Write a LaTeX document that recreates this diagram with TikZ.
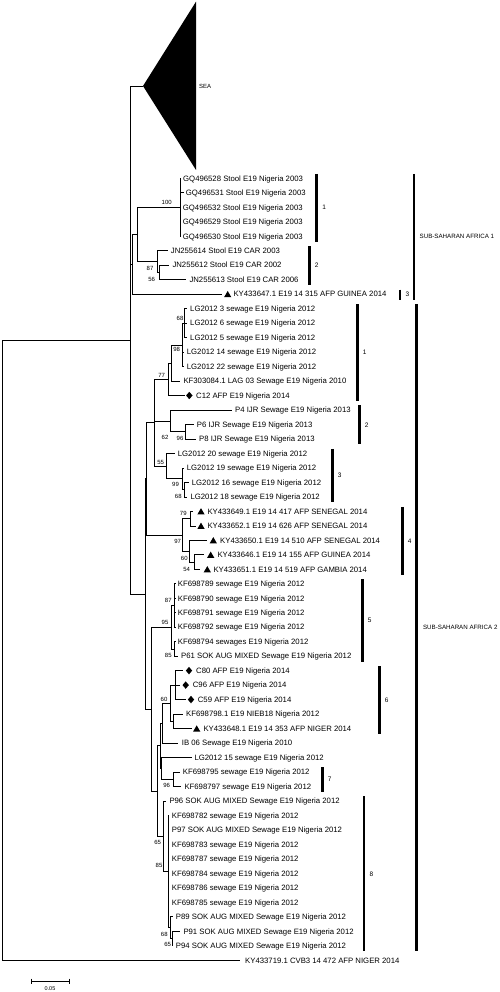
\documentclass[tikz,border=0pt]{standalone}
\usepackage{fontspec}
\setmainfont{Liberation Sans}
\usepackage{tikz}
\usetikzlibrary{shapes.geometric}
\def\RowTop{178.3}
\def\RowGap{14.48}

\begin{document}
\begin{tikzpicture}[x=1pt,y=-1pt,
    branch/.style={line width=0.6pt},
    leaftext/.style={anchor=base west,inner sep=0pt,yshift=-2.8pt,font=\fontsize{7.75}{9}\selectfont},
    boot/.style={inner sep=0pt,font=\fontsize{6}{7}\selectfont},
    tri/.style={regular polygon,regular polygon sides=3,fill,inner sep=0pt,minimum size=8.4pt},
    dia/.style={diamond,fill,inner sep=0pt,minimum width=6.6pt,minimum height=7.6pt},
    cladebar/.style={line width=2.7pt},
    cladetext/.style={anchor=west,inner sep=0pt,font=\fontsize{6.5}{8}\selectfont},
    regiontext/.style={anchor=west,inner sep=0pt,font=\fontsize{6.2}{8}\selectfont}]
\useasboundingbox (0,0) rectangle (499,992);

% leaves: row/branch end/label start/name
\foreach \i/\ex/\lx/\txt in {
  1/181/183/{GQ496528 Stool E19 Nigeria 2003},
  2/183.5/185.7/{GQ496531 Stool E19 Nigeria 2003},
  3/181/182.7/{GQ496532 Stool E19 Nigeria 2003},
  4/181/182.7/{GQ496529 Stool E19 Nigeria 2003},
  5/181/182.7/{GQ496530 Stool E19 Nigeria 2003},
  6/167.7/170.7/{JN255614 Stool E19 CAR 2003},
  7/169.3/172.3/{JN255612 Stool E19 CAR 2002},
  8/186.3/189.3/{JN255613 Stool E19 CAR 2006},
  9/222/233.3/{KY433647.1 E19 14 315 AFP GUINEA 2014},
  10/187/190/{LG2012 3 sewage E19 Nigeria 2012},
  11/187/190/{LG2012 6 sewage E19 Nigeria 2012},
  12/187/190/{LG2012 5 sewage E19 Nigeria 2012},
  13/184/186.7/{LG2012 14 sewage E19 Nigeria 2012},
  14/184/186.7/{LG2012 22 sewage E19 Nigeria 2012},
  15/180.3/183.3/{KF303084.1 LAG 03 Sewage E19 Nigeria 2010},
  16/185/196/{C12 AFP E19 Nigeria 2014},
  17/232/235/{P4 IJR Sewage E19 Nigeria 2013},
  18/193.7/196.7/{P6 IJR Sewage E19 Nigeria 2013},
  19/196/199/{P8 IJR Sewage E19 Nigeria 2013},
  20/174.7/177.7/{LG2012 20 sewage E19 Nigeria 2012},
  21/184/186.7/{LG2012 19 sewage E19 Nigeria 2012},
  22/188.7/191.7/{LG2012 16 sewage E19 Nigeria 2012},
  23/187.3/190.3/{LG2012 18 sewage E19 Nigeria 2012},
  24/193.3/207.3/{KY433649.1 E19 14 417 AFP SENEGAL 2014},
  25/196/207.3/{KY433652.1 E19 14 626 AFP SENEGAL 2014},
  26/206.7/220/{KY433650.1 E19 14 510 AFP SENEGAL 2014},
  27/204/217.3/{KY433646.1 E19 14 155 AFP GUINEA 2014},
  28/200/213.3/{KY433651.1 E19 14 519 AFP GAMBIA 2014},
  29/175.5/177.7/{KF698789 sewage E19 Nigeria 2012},
  30/175.5/177.7/{KF698790 sewage E19 Nigeria 2012},
  31/175.5/177.7/{KF698791 sewage E19 Nigeria 2012},
  32/175.5/177.7/{KF698792 sewage E19 Nigeria 2012},
  33/175.5/177.7/{KF698794 sewages E19 Nigeria 2012},
  34/178/181/{P61 SOK AUG MIXED Sewage E19 Nigeria 2012},
  35/183.3/196/{C80 AFP E19 Nigeria 2014},
  36/180/192.7/{C96 AFP E19 Nigeria 2014},
  37/186/197.7/{C59 AFP E19 Nigeria 2014},
  38/183/186/{KF698798.1 E19 NIEB18 Nigeria 2012},
  39/191.7/203.3/{KY433648.1 E19 14 353 AFP NIGER 2014},
  40/178.3/181.7/{IB 06 Sewage E19 Nigeria 2010},
  41/191.7/194.3/{LG2012 15 sewage E19 Nigeria 2012},
  42/179.7/182.7/{KF698795 sewage E19 Nigeria 2012},
  43/181.3/184.3/{KF698797 sewage E19 Nigeria 2012},
  44/166.3/169.3/{P96 SOK AUG MIXED Sewage E19 Nigeria 2012},
  45/169/171.7/{KF698782 sewage E19 Nigeria 2012},
  46/169/171.7/{P97 SOK AUG MIXED Sewage E19 Nigeria 2012},
  47/169/171.7/{KF698783 sewage E19 Nigeria 2012},
  48/169/171.7/{KF698787 sewage E19 Nigeria 2012},
  49/169/171.7/{KF698784 sewage E19 Nigeria 2012},
  50/169/171.7/{KF698786 sewage E19 Nigeria 2012},
  51/169/171.7/{KF698785 sewage E19 Nigeria 2012},
  52/172.7/175.7/{P89 SOK AUG MIXED Sewage E19 Nigeria 2012},
  53/180.3/183.3/{P91 SOK AUG MIXED Sewage E19 Nigeria 2012},
  54/172.7/175.7/{P94 SOK AUG MIXED Sewage E19 Nigeria 2012},
  55/240/245/{KY433719.1 CVB3 14 472 AFP NIGER 2014}}{
  \coordinate (l\i) at (\ex,{\RowTop+(\i-1)*\RowGap});
  \node[leaftext] (t\i) at (\lx,{\RowTop+(\i-1)*\RowGap}) {\txt};
}
\foreach \i/\mx in {9/227.7,24/201,25/201,26/213.3,27/210.7,28/207.3,39/196.7}
  \node[tri] (m\i) at (\mx,{\RowTop+(\i-1)*\RowGap+1}) {};
\foreach \i/\mx in {16/189.3,35/189,36/185.7,37/191}
  \node[dia] (m\i) at (\mx,{\RowTop+(\i-1)*\RowGap}) {};

% inner nodes
\foreach \nm/\nx/\ny in {root/2/650.1, r/130/339.97, ssa1/132.3/264.28, a1/137/234.41,
    n100/180/207.26, n87/157/261.56, n56/159/272.42,
    ssa2/145.5/593.93, wa/146.7/478.76, ga/154.3/422.65,
    n77/168.3/379.21, nkf/171.7/362.92, n98/182.7/344.82, n68a/184.3/323.10,
    n62/170/420.84, n96a/185/431.70, n55/166.7/466.09, n99/182.7/478.76, n68b/184/489.62,
    n97/182.7/534.87, n79/190/518.58, n60a/189.3/551.16, n54/194.3/562.02,
    gc/151.7/709.09, n95/171.7/627.18, n87b/174.5/605.46, n85b/174.5/648.90,
    gd/157.3/790.99, ge/160/745.74, nib/162.7/723.11, n60b/170/703.20,
    nc3/175/685.10, nk/173.3/721.30, gf/161.7/768.36, n96b/173.3/779.22,
    n65/163.3/836.24, nz/168/871.53, n68c/170.7/927.64, n65c/172/938.50}
  \coordinate (\nm) at (\nx,\ny);

\coordinate (sea) at (143,86);
\fill (sea) -- (196,1.7) -- (196,170) -- cycle;
\node[cladetext,font=\fontsize{6}{7}\selectfont] (seatext) at (199,86) {SEA};

\foreach \pa/\ch in {root/r, root/l55, r/sea, r/ssa1, r/ssa2,
    ssa1/a1, ssa1/l9, a1/n100, a1/n87,
    n100/l1, n100/l2, n100/l3, n100/l4, n100/l5,
    n87/l6, n87/n56, n56/l7, n56/l8,
    ssa2/wa, ssa2/gc, wa/ga, wa/n97,
    ga/n77, ga/n62, ga/n55,
    n77/nkf, n77/l16, nkf/n98, nkf/l15, n98/n68a, n98/l13, n98/l14,
    n68a/l10, n68a/l11, n68a/l12,
    n62/l17, n62/n96a, n96a/l18, n96a/l19,
    n55/l20, n55/n99, n99/l21, n99/n68b, n68b/l22, n68b/l23,
    n97/n79, n97/n60a, n79/l24, n79/l25, n60a/l26, n60a/n54, n54/l27, n54/l28,
    gc/n95, gc/gd, n95/n87b, n95/n85b,
    n87b/l29, n87b/l30, n87b/l31, n87b/l32, n85b/l33, n85b/l34,
    gd/ge, gd/n65, ge/nib, ge/gf, nib/n60b, nib/l40,
    n60b/nc3, n60b/nk, nc3/l35, nc3/l36, nc3/l37, nk/l38, nk/l39,
    gf/l41, gf/n96b, n96b/l42, n96b/l43,
    n65/l44, n65/nz, nz/l45, nz/l46, nz/l47, nz/l48, nz/l49, nz/l50, nz/l51, nz/n68c,
    n68c/l52, n68c/n65c, n65c/l53, n65c/l54}
  \draw[branch] (\pa) |- (\ch);

\foreach \bx/\by/\v [count=\k] in {166.7/202.7/100, 150/268.3/87, 151.7/279.3/56,
    180/318.3/68, 176.7/349.5/98, 161.7/375.5/77, 165/437.7/62, 180/438.7/96,
    160.7/462.5/55, 175.5/484/99, 178.3/496/68, 183.3/513.3/79, 177.7/541.7/97,
    184.3/558.3/60, 186.7/569/54, 168.3/600.7/87, 165/622.7/95, 168.3/655/85,
    164/699/60, 166.7/785/96, 157.7/842/65, 159/865.7/85, 164.3/934.3/68, 167.7/944.3/65}
  \node[boot] (bs\k) at (\bx,\by) {\v};

% clade bars
\foreach \k/\bx/\a/\b/\v in {sa1/316.7/1/5/1, sa2/309.3/6/8/2, sa3/400/9/9/3,
    sb1/357.3/10/16/1, sb2/359.3/17/19/2, sb3/332.3/20/23/3, sb4/402.3/24/28/4,
    sb5/362.3/29/34/5, sb6/379.3/35/39/6, sb7/322.3/42/43/7, sb8/364/44/54/8}
  \draw[cladebar] (\bx,{\RowTop+(\a-1)*\RowGap-4.5}) -- (\bx,{\RowTop+(\b-1)*\RowGap+5.5})
    node[midway,cladetext,xshift=4.3pt] (\k) {\v};
\draw[cladebar] (414,{\RowTop-4.5}) -- (414,{\RowTop+8*\RowGap+5.5})
  node[midway,regiontext,xshift=4.3pt] (ssa1text) {SUB-SAHARAN AFRICA 1};
\draw[cladebar] (416.7,{\RowTop+9*\RowGap-4.5}) -- (416.7,{\RowTop+53*\RowGap+5.5})
  node[midway,regiontext,xshift=5pt] (ssa2text) {SUB-SAHARAN AFRICA 2};

\coordinate (s0) at (31.7,981);
\coordinate (s1) at (69,981);
\draw[branch] (s0) -- (s1);
\draw[branch] ([yshift=2.5pt]s0) -- ([yshift=-2.5pt]s0);
\draw[branch] ([yshift=2.5pt]s1) -- ([yshift=-2.5pt]s1);
\node[boot,font=\fontsize{5.5}{6}\selectfont] (scale) at (50,988.5) {0.05};
\end{tikzpicture}
\end{document}
